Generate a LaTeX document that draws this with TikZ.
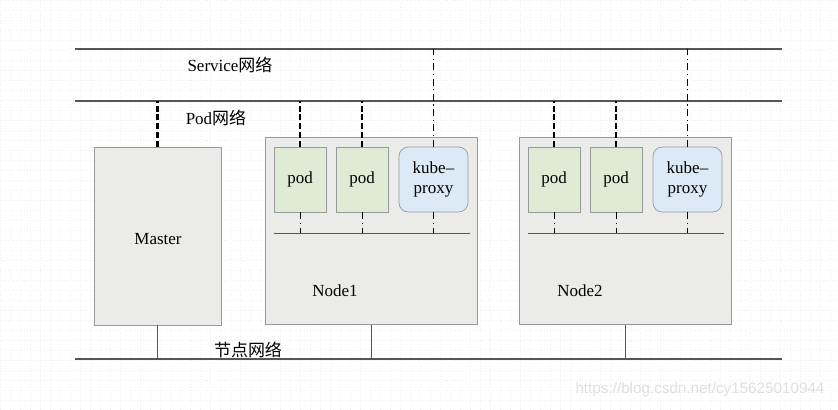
\documentclass[tikz,border=0pt]{standalone}
\usepackage{fontspec}
\setmainfont{Liberation Serif}
\newfontfamily\cjk{Noto Sans CJK SC}
\newfontfamily\wmfont{Liberation Sans}
\usetikzlibrary{positioning}

\definecolor{boxgray}{HTML}{EBEBE9}
\definecolor{podgreen}{HTML}{E0EBD5}
\definecolor{proxyblue}{HTML}{DCE9F6}
\definecolor{linegray}{HTML}{555555}

\tikzset{
  host/.style={draw=gray!80, fill=boxgray, line width=0.6pt, minimum width=6.36cm, minimum height=5.61cm, inner sep=0pt},
  podbox/.style={draw=gray!80, fill=podgreen, line width=0.6pt, minimum width=1.56cm, minimum height=1.95cm, inner sep=0pt},
  proxybox/.style={draw=gray!80, fill=proxyblue, line width=0.6pt, rounded corners=8pt, minimum width=2.07cm, minimum height=1.95cm, inner sep=0pt, align=center},
  net/.style={draw=linegray, line width=0.9pt},
  podlink/.style={line width=2pt, dash pattern=on 5pt off 2.5pt},
  svclink/.style={line width=0.8pt, dash pattern=on 6pt off 3pt on 1pt off 3pt},
  nodelink/.style={draw=linegray, line width=0.7pt}
}

\begin{document}
\begin{tikzpicture}[x=0.03cm, y=-0.03cm, font=\fontsize{14.5}{17}\selectfont]
\useasboundingbox (0,0) rectangle (838,409);
% Fond
\draw[black!6, line width=0.3pt, dotted] (0,0) grid[step=0.3cm] (838,409);
% Reseaux
\coordinate (svcL) at (75,49);   \coordinate (svcR) at (782,49);
\coordinate (podL) at (75,101);  \coordinate (podR) at (782,101);
\coordinate (hostL) at (75,359); \coordinate (hostR) at (782,359);
\draw[net] (svcL) -- (svcR);
\draw[net] (podL) -- (podR);
\draw[net] (hostL) -- (hostR);
\node (svclabel) at (230,65) {Service{\cjk 网络}};
\node (podlabel) at (216,118) {Pod{\cjk 网络}};
\node (hostlabel) at (248,350) {\cjk 节点网络};
% Master
\node[host, minimum width=3.81cm, minimum height=5.34cm] (master) at (157.5,236) {};
\node (masterlabel) at (158,239) {Master};
\draw[podlink] (master.north) -- (master.north |- podL);
\draw[nodelink] (master.south) -- (master.south |- hostL);
% Noeuds
\foreach \n/\x/\lx in {1/265/335,2/519/580} {
  \node[host, anchor=north west] (node\n) at (\x,137) {};
  \node (node\n label) at (\lx,291) {Node\n};
  \node[podbox] (pod\n a) at (\x+35,179.5) {pod};
  \node[podbox] (pod\n b) at (\x+97,179.5) {pod};
  \node[proxybox] (proxy\n) at (\x+168.5,179.5) {kube--\\proxy};
  \coordinate (bus\n L) at (\x+9,233);
  \coordinate (bus\n R) at (\x+205,233);
  \draw[nodelink] (bus\n L) -- (bus\n R);
  \draw[podlink] (pod\n a.north) -- (pod\n a.north |- podL);
  \draw[podlink] (pod\n b.north) -- (pod\n b.north |- podL);
  \draw[svclink] (proxy\n.north) -- (proxy\n.north |- svcL);
  \foreach \p in {pod\n a,pod\n b,proxy\n}
    \draw[svclink] (\p.south) -- (\p.south |- bus\n L);
  \draw[nodelink] (node\n.south) -- (node\n.south |- hostL);
}
% Filigrane
\node[text=gray!25, font=\wmfont\fontsize{13}{15}\selectfont] (watermark) at (700,390) {https://blog.csdn.net/cy15625010944};
\end{tikzpicture}
\end{document}
